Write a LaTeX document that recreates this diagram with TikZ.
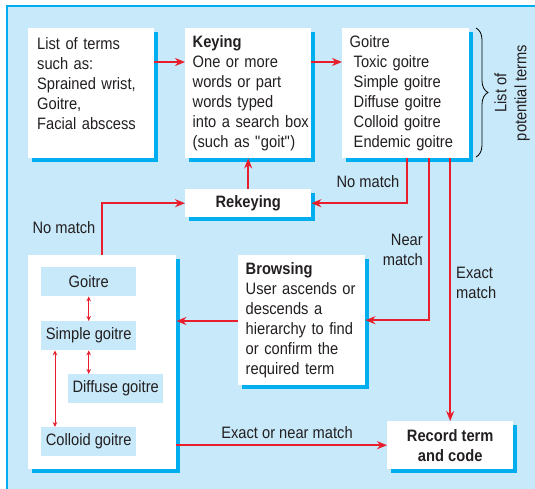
\documentclass[tikz,border=0pt]{standalone}
\usepackage{fontspec}
\setmainfont{Liberation Sans}[FakeStretch=0.89]
\usetikzlibrary{arrows.meta,shadows,decorations.pathreplacing}

\definecolor{paleblue}{RGB}{199,233,249}
\definecolor{cyanline}{RGB}{0,174,239}
\definecolor{linkred}{RGB}{232,30,45}
\definecolor{inkgray}{RGB}{35,31,32}

\begin{document}
\begin{tikzpicture}[x=1pt,y=-1pt,
  font=\fontsize{16.5}{20}\selectfont, text=inkgray,
  infobox/.style={anchor=north west,fill=white,inner xsep=7.5pt,inner ysep=0pt,
    drop shadow={shadow xshift=4pt,shadow yshift=-4pt,fill=cyanline,opacity=1}},
  itembox/.style={anchor=north west,fill=paleblue,minimum width=95pt,
    minimum height=29pt,inner sep=0pt},
  flow/.style={draw=linkred,line width=1.8pt,-{Stealth[length=10pt,width=8pt]}},
  hop/.style={draw=linkred,line width=1pt,
    {Stealth[length=5pt,width=4.5pt]}-{Stealth[length=5pt,width=4.5pt]}},
  note/.style={inner sep=0pt}]
\path[use as bounding box,clip] (0,0) rectangle (535,488);
\draw[cyanline,line width=2pt,fill=paleblue] (7,6) rectangle (560,510);

% top row
\node[infobox,align=left,text width=111pt,minimum height=130pt] (terms) at (28,28)
  {\hspace*{1.5pt}List of terms\\\hspace*{1.5pt}such as:\\\hspace*{1.5pt}Sprained wrist,\\\hspace*{1.5pt}Goitre,\\\hspace*{1.5pt}Facial abscess\\\mbox{}};
\node[infobox,align=left,text width=111pt,minimum height=130pt] (keying) at (185,28)
  {\textbf{Keying}\\One or more\\words or part\\words typed\\into~a~search~box\\(such as \textquotedbl goit\textquotedbl)};
\node[infobox,align=left,text width=112pt,minimum height=130pt] (potential) at (342,28)
  {Goitre\\\hspace*{4pt}Toxic goitre\\\hspace*{4pt}Simple goitre\\\hspace*{4pt}Diffuse goitre\\\hspace*{4pt}Colloid goitre\\\hspace*{4pt}Endemic goitre};
\draw[decorate,decoration={brace,amplitude=12pt},line width=0.8pt] (476,28) -- (476,157);
\node[note,rotate=90,align=center] (potlabel) at (512,93) {List of\\potential terms};

% middle and bottom
\node[infobox,align=center,minimum width=126pt,minimum height=28pt] (rekeying) at (185,189)
  {\textbf{Rekeying}};
\node[infobox,align=left,text width=112pt,minimum height=130pt] (browsing) at (238,255)
  {\textbf{Browsing}\\User ascends or\\descends a\\hierarchy to find\\or confirm the\\required term};
\node[infobox,minimum width=148pt,minimum height=214pt] (hierarchy) at (28,255) {};
\node[infobox,align=center,minimum width=126pt,minimum height=48pt] (record) at (387,421)
  {\textbf{Record term}\\\textbf{and code}};

% hierarchy items
\node[itembox] (igoitre) at (41,267) {Goitre};
\node[itembox] (isimple) at (41,321) {Simple goitre};
\node[itembox] (idiffuse) at (68,374) {Diffuse goitre};
\node[itembox] (icolloid) at (41,427) {Colloid goitre};
\draw[hop] (igoitre.south) -- (isimple.north);
\draw[hop] (isimple.south) -- (idiffuse.north -| isimple.south);
\draw[hop] (isimple.south -| 55,0) -- (icolloid.north -| 55,0);

% connectors
\draw[flow] (terms.east |- 0,62) -- (keying.west |- 0,62);
\draw[flow] (keying.east |- 0,62) -- (potential.west |- 0,62);
\draw[flow] (rekeying.north) -- (keying.south);
\draw[flow] (potential.south -| 407,0) |- (rekeying.east);
\draw[flow] (potential.south -| 429,0) |- (browsing.east);
\draw[flow] (potential.south -| record.north) -- (record.north);
\draw[flow] (browsing.west |- 0,321) -- (hierarchy.east |- 0,321);
\draw[flow] (hierarchy.east |- record.west) -- (record.west);
\draw[flow] (hierarchy.north) |- (rekeying.west);

% labels
\node[note,anchor=base] (nomatchtop) at (368,187) {No match};
\node[note,anchor=base] (nomatchleft) at (64,233) {No match};
\node[note,anchor=north east,align=right] (nearmatch) at (423,234) {Near\\match};
\node[note,anchor=north west,align=left] (exactmatch) at (456,267) {Exact\\match};
\node[note,anchor=base] (eithermatch) at (287,438) {Exact or near match};
\end{tikzpicture}
\end{document}
